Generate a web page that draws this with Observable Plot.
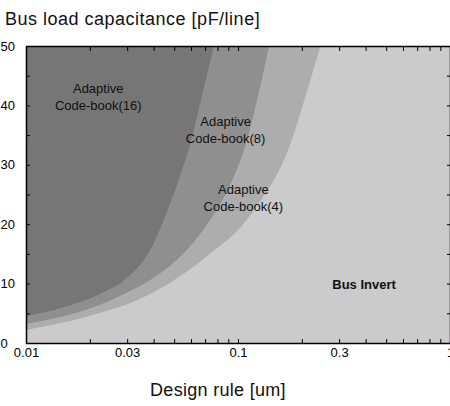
<!DOCTYPE html>
<html>
<head>
<meta charset="utf-8">
<script src="https://cdn.jsdelivr.net/npm/d3@7"></script>
<script src="https://cdn.jsdelivr.net/npm/@observablehq/plot@0.6"></script>
<style>
  html, body { margin: 0; padding: 0; background: #fff; }
  body { width: 450px; height: 406px; overflow: hidden; font-family: "Liberation Sans", Arial, sans-serif; color: #111; }
  #title { height: 30px; font-size: 18px; letter-spacing: 0.5px; line-height: 38px; padding-left: 5px; white-space: nowrap; }
  #chart svg { display: block; }
  #xlabel { height: 36px; font-size: 18px; letter-spacing: 0.3px; line-height: 40px; text-align: center; padding-right: 14px; white-space: nowrap; }
</style>
</head>
<body>
<div id="title">Bus load capacitance [pF/line]</div>
<div id="chart"></div>
<div id="xlabel">Design rule [um]</div>
<script>
// Region boundaries (design rule [um] -> bus load capacitance [pF/line])
const b16X = [0.01, 0.015, 0.023, 0.03, 0.039, 0.045, 0.052, 0.06, 0.068, 0.077];
const b16Y = [4.5, 6, 8.5, 11, 16, 21, 27, 34, 42, 50];
const b8X = [0.01, 0.015, 0.02, 0.03, 0.04, 0.055, 0.07, 0.09, 0.11, 0.125, 0.14];
const b8Y = [3.2, 4.5, 5.8, 8.5, 11, 15, 19.5, 26, 34, 42, 50];
const b4X = [0.01, 0.0193, 0.0394, 0.0708, 0.1164, 0.1795, 0.21, 0.245];
const b4Y = [2.2, 4.4, 8.4, 14.5, 21.9, 34.2, 42, 50];

// Region labels
const labelText = ["Adaptive\nCode-book(16)", "Adaptive\nCode-book(8)", "Adaptive\nCode-book(4)"];
const labelX = [0.0218, 0.0869, 0.1054];
const labelY = [41.6, 36.1, 24.7];
const busLabelText = ["Bus Invert"];
const busLabelX = [0.391];
const busLabelY = [9.8];

// Axis ticks
const xTicks = [0.01,0.02,0.03,0.04,0.05,0.06,0.07,0.08,0.09,0.1,0.2,0.3,0.4,0.5,0.6,0.7,0.8,0.9,1];
const xLabelTicks = [0.01, 0.03, 0.1, 0.3, 1];
const xLabelText = ["0.01", "0.03", "0.1", "0.3", "1"];
const yTicks = [0,5,10,15,20,25,30,35,40,45,50];
const yLabelTicks = [0,10,20,30,40,50];

const toRows = (xs, ys) => xs.map((x, i) => ({x, y: ys[i]}));
const labels = labelText.map((t, i) => ({t, x: labelX[i], y: labelY[i]}));
const busLabels = busLabelText.map((t, i) => ({t, x: busLabelX[i], y: busLabelY[i]}));
const xLabels = xLabelTicks.map((x, i) => ({x, t: xLabelText[i]}));

const fills = {bi: "#cbcbcb", c4: "#adadad", c8: "#8f8f8f", c16: "#767676"};

const chart = Plot.plot({
  width: 450,
  height: 340,
  marginLeft: 26,
  marginRight: 0,
  marginTop: 16,
  marginBottom: 27,
  style: {fontFamily: "'Liberation Sans', Arial, sans-serif", fontSize: "13px", color: "#000", background: "transparent", overflow: "visible"},
  x: {type: "log", domain: [0.01, 1]},
  y: {domain: [0, 50]},
  marks: [
    Plot.frame({fill: fills.bi}),
    Plot.areaY(toRows(b4X, b4Y), {x: "x", y1: "y", y2: () => 50, fill: fills.c4, curve: "monotone-x"}),
    Plot.areaY(toRows(b8X, b8Y), {x: "x", y1: "y", y2: () => 50, fill: fills.c8, curve: "monotone-x"}),
    Plot.areaY(toRows(b16X, b16Y), {x: "x", y1: "y", y2: () => 50, fill: fills.c16, curve: "monotone-x"}),
    Plot.text(labels, {x: "x", y: "y", text: "t", fontSize: 13, lineHeight: 1.3, fill: "#111"}),
    Plot.text(busLabels, {x: "x", y: "y", text: "t", fontSize: 13, fontWeight: "bold", fill: "#111"}),
    // inward tick marks
    Plot.axisX(xTicks, {anchor: "bottom", tickSize: -4, tickFormat: () => "", label: null}),
    Plot.axisX(xTicks, {anchor: "top", tickSize: -4, tickFormat: () => "", label: null}),
    Plot.axisY(yTicks, {anchor: "left", tickSize: -4, tickFormat: () => "", label: null}),
    Plot.axisY(yTicks, {anchor: "right", tickSize: -4, tickFormat: () => "", label: null}),
    // tick labels
    Plot.text(xLabels, {x: "x", text: "t", frameAnchor: "bottom", lineAnchor: "top", dy: 4, fontSize: 13, fill: "#000"}),
    Plot.text(yLabelTicks, {y: d => d, text: d => String(d), frameAnchor: "left", textAnchor: "start", dx: -26, fontSize: 13, fill: "#000"}),
    Plot.frame({stroke: "#000", strokeWidth: 1.5})
  ]
});
document.getElementById("chart").appendChild(chart);
</script>
</body>
</html>
